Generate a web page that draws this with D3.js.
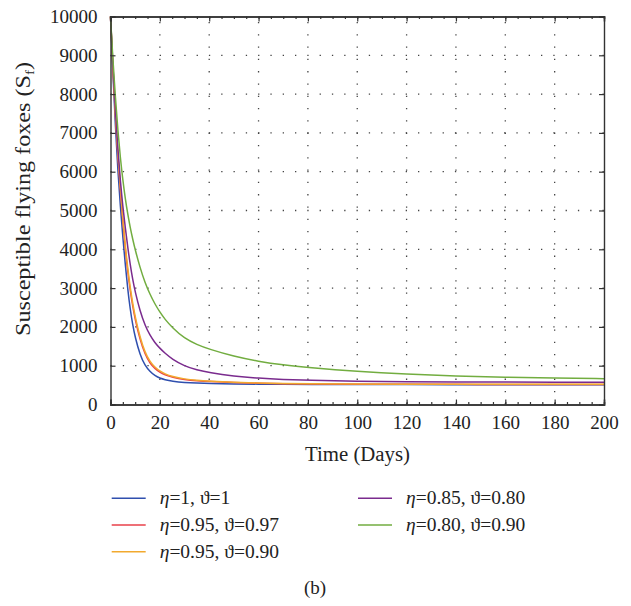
<!DOCTYPE html>
<html>
<head>
<meta charset="utf-8">
<script src="https://cdn.jsdelivr.net/npm/d3@7"></script>
<style>
  html, body { margin: 0; padding: 0; background: #fff; }
  text { font-family: "Liberation Serif", "Times New Roman", serif; fill: #222; }
</style>
</head>
<body>
<svg id="chart" width="631" height="606"></svg>
<script>
const days       = [0,1,2,3,4,5,6,7,8,9,10,12,14,16,18,20,22,25,30,35,40,50,60,70,80,100,120,140,160,180,200];
const blueVals   = [10000,8500,7150,6000,5100,4300,3600,2960,2450,2050,1730,1270,1000,850,740,680,640,600,565,550,542,530,524,520,518,515,513,512,511,510,510];
const redVals    = [10000,8600,7380,6370,5520,4700,4000,3420,2930,2530,2190,1660,1290,1060,925,830,765,700,640,610,592,565,548,537,530,524,521,519,518,517,516];
const orangeVals = [10000,8650,7450,6450,5600,4780,4080,3500,3010,2600,2260,1720,1340,1100,960,860,790,720,655,622,602,572,553,541,534,527,524,523,522,521,520];
const purpleVals = [10000,8700,7550,6550,5750,5100,4550,4050,3600,3220,2900,2400,2040,1780,1590,1450,1325,1170,990,890,820,730,676,645,625,600,588,581,577,574,572];
const greenVals  = [10000,8850,7900,7050,6350,5780,5300,4900,4560,4260,3990,3520,3140,2840,2590,2380,2200,1985,1700,1545,1425,1240,1110,1020,955,850,780,733,702,682,665];

const seriesNames = ["η=1, ϑ=1","η=0.95, ϑ=0.97","η=0.95, ϑ=0.90","η=0.85, ϑ=0.80","η=0.80, ϑ=0.90"];
const seriesColors = ["#2f4fae","#e8404a","#f2a92e","#7a2b8e","#72ad40"];
const seriesVals = [blueVals, redVals, orangeVals, purpleVals, greenVals];

const xTicks = [0,20,40,60,80,100,120,140,160,180,200];
const yTicks = [0,1000,2000,3000,4000,5000,6000,7000,8000,9000,10000];
const xMinorTicks = d3.range(0, 201, 5);

const xLabel = "Time (Days)";
const yLabel = "Susceptible flying foxes (S";
const yLabelSub = "f";
const caption = "(b)";

const L = 110.5, R = 604, T = 16.5, B = 404.5;
const x = d3.scaleLinear().domain([0,200]).range([L,R]);
const y = d3.scaleLinear().domain([0,10000]).range([B,T]);

const svg = d3.select("#chart");
svg.append("rect").attr("width",631).attr("height",606).attr("fill","#fff");

// grid
const grid = svg.append("g").attr("stroke","#444").attr("stroke-width",1.3).attr("stroke-dasharray","1.3,11");
xTicks.slice(1,-1).forEach(v => grid.append("line").attr("x1",x(v)).attr("x2",x(v)).attr("y1",B).attr("y2",T));
yTicks.slice(1,-1).forEach(v => grid.append("line").attr("x1",L).attr("x2",R).attr("y1",y(v)).attr("y2",y(v)));

// curves
const line = d3.line().x((d,i)=>x(days[i])).y(d=>y(d)).curve(d3.curveBasis);
seriesVals.forEach((vals,k)=>{
  svg.append("path").attr("d", line(vals)).attr("fill","none")
    .attr("stroke", seriesColors[k]).attr("stroke-width",1.5);
});

// axes
const axStroke = "#333";
const axB = svg.append("g").attr("transform",`translate(0,${B})`)
  .call(d3.axisBottom(x).tickValues(xTicks).tickSize(-5).tickPadding(14).tickFormat(d3.format("d")));
const axBm = svg.append("g").attr("transform",`translate(0,${B})`)
  .call(d3.axisBottom(x).tickValues(xMinorTicks).tickSize(-2.5).tickFormat(""));
const axT = svg.append("g").attr("transform",`translate(0,${T})`)
  .call(d3.axisTop(x).tickValues(xTicks).tickSize(-5).tickFormat(""));
const axTm = svg.append("g").attr("transform",`translate(0,${T})`)
  .call(d3.axisTop(x).tickValues(xMinorTicks).tickSize(-2.5).tickFormat(""));
const axL = svg.append("g").attr("transform",`translate(${L},0)`)
  .call(d3.axisLeft(y).tickValues(yTicks).tickSize(-5).tickPadding(13).tickFormat(d3.format("d")));
const axR = svg.append("g").attr("transform",`translate(${R},0)`)
  .call(d3.axisRight(y).tickValues(yTicks).tickSize(-5).tickFormat(""));
[axB,axBm,axT,axTm,axL,axR].forEach(g=>{
  g.select(".domain").attr("stroke",axStroke).attr("stroke-width",1.4);
  g.selectAll(".tick line").attr("stroke",axStroke).attr("stroke-width",1.2);
  g.selectAll(".tick text").attr("font-family","Liberation Serif").attr("font-size",19).attr("fill","#222");
});
axB.selectAll(".tick text").attr("dy","0.55em");

// axis titles
svg.append("text").attr("x",357.5).attr("y",461).attr("text-anchor","middle")
  .attr("font-size",20).attr("textLength",105).attr("lengthAdjust","spacingAndGlyphs").text(xLabel);
const yt = svg.append("text").attr("transform","translate(29.5,199) rotate(-90)")
  .attr("text-anchor","middle").attr("font-size",21)
  .attr("textLength",274).attr("lengthAdjust","spacingAndGlyphs");
yt.append("tspan").text(yLabel);
yt.append("tspan").attr("font-size",13).attr("dy",4).text(yLabelSub);
yt.append("tspan").attr("dy",-4).text(")");

// legend
const legendPos = [[111.7,498.3],[111.7,525],[111.7,551.7],[358,498.3],[358,525]];
seriesNames.forEach((nm,k)=>{
  const [lx,ly] = legendPos[k];
  svg.append("line").attr("x1",lx).attr("x2",lx+34).attr("y1",ly).attr("y2",ly)
    .attr("stroke",seriesColors[k]).attr("stroke-width",1.5);
  const parts = nm.split(/(η|ϑ)/);
  const t = svg.append("text").attr("x",lx+48).attr("y",ly+6).attr("font-size",19.5);
  parts.forEach(p=>{
    if(!p) return;
    const s = t.append("tspan").text(p);
    if(p==="η") s.attr("font-style","italic");
  });
});

svg.append("text").attr("x",315).attr("y",594).attr("text-anchor","middle").attr("font-size",19).text(caption);
</script>
</body>
</html>
